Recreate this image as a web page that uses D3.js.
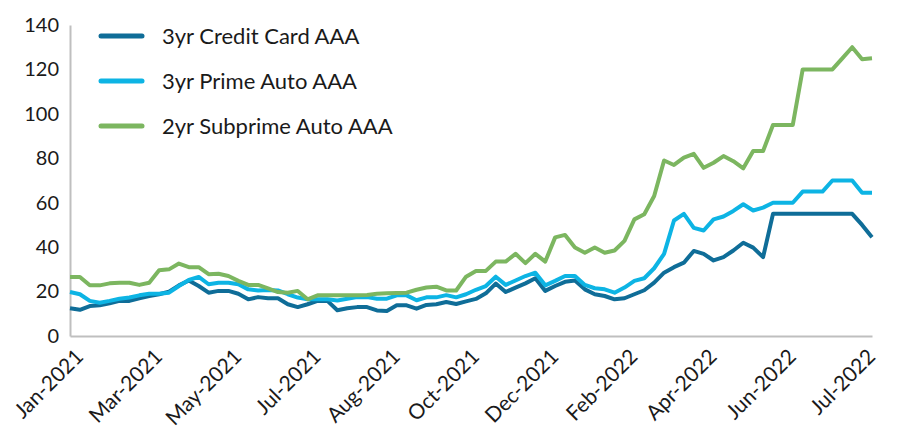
<!DOCTYPE html>
<html>
<head>
<meta charset="utf-8">
<script src="https://cdn.jsdelivr.net/npm/d3@7"></script>
<style>
  html, body { margin: 0; padding: 0; background: #ffffff; }
  svg { display: block; }
  text { font-family: Lato, "Open Sans", sans-serif; fill: #1a1a1a; }
</style>
</head>
<body>
<svg id="chart" width="900" height="441"></svg>
<script>
// ---- data (weekly observations, Jan-2021 .. Jul-2022) ----
const seriesNames = ["3yr Credit Card AAA", "3yr Prime Auto AAA", "2yr Subprime Auto AAA"];
const seriesColors = ["#0f6d98", "#0db4e4", "#7cb660"];

const creditCard = [
  12.5, 11.8, 13.5, 13.8, 14.7, 15.8, 15.8, 17, 18, 18.8,
  20, 22.8, 25, 22.5, 19.5, 20.3, 20.3, 19, 16.5, 17.5,
  17, 17, 14.3, 13, 14.3, 15.8, 15.8, 11.6, 12.5, 13,
  13, 11.5, 11.3, 13.8, 13.8, 12.3, 14, 14.3, 15.3, 14.4,
  15.6, 16.7, 19.2, 23.6, 19.8, 21.8, 23.7, 26, 20.3, 22.5,
  24.4, 25, 21, 18.8, 18, 16.5, 17, 18.8, 20.6, 24,
  28.5, 31, 33, 38.3, 37, 34, 35.5, 38.5, 42, 39.8,
  35.5, 55, 55, 55, 55, 55, 55, 55, 55, 55,
  50, 44.5
];
const primeAuto = [
  19.8, 18.8, 15.8, 15, 15.8, 16.8, 17.3, 18.3, 19, 19,
  19.5, 22.5, 25.2, 26.6, 23.3, 24, 24, 23.3, 21, 20.5,
  20.7, 20.5, 18.8, 17.3, 16.5, 16.5, 16.5, 16, 16.8, 17.5,
  17.5, 16.8, 16.8, 18.3, 18.3, 16.1, 17.4, 17.4, 18.4, 17.4,
  18.8, 20.8, 22.5, 26.7, 23, 25, 27, 28.5, 22.8, 24.8,
  27, 27, 23, 21.5, 21, 19.5, 21.8, 24.8, 26, 30.5,
  37, 52, 55, 48.7, 47.5, 52.5, 53.8, 56.3, 59.3, 56.5,
  57.8, 60, 60, 60, 65, 65, 65, 70, 70, 70,
  64.5, 64.5
];
const subprimeAuto = [
  26.6, 26.6, 22.8, 22.8, 23.7, 24, 24, 23, 24, 29.6,
  30, 32.6, 31, 31, 27.8, 28, 27, 24.8, 23, 23,
  21.4, 19.8, 19.5, 20.3, 16.5, 18.3, 18.3, 18.3, 18.3, 18.3,
  18.5, 19, 19.2, 19.4, 19.5, 20.8, 21.8, 22.2, 20.5, 20.5,
  26.7, 29.3, 29.3, 33.5, 33.5, 37, 32.8, 37, 33.5, 44.4,
  45.5, 39.8, 37.5, 39.8, 37.5, 38.5, 42.8, 52.5, 54.8, 63,
  79, 77, 80.3, 82, 75.7, 78, 81, 78.7, 75.5, 83.3,
  83.3, 95, 95, 95, 120, 120, 120, 120, 125, 130,
  124.6, 125
];
const weeks = creditCard.map((d, i) => i);   // category index per weekly observation
const tickLabels = ["Jan-2021", "Mar-2021", "May-2021", "Jul-2021", "Aug-2021", "Oct-2021",
                    "Dec-2021", "Feb-2022", "Apr-2022", "Jun-2022", "Jul-2022"];
const tickWeeks = [0, 8, 16, 24, 32, 40, 48, 56, 64, 72, 80];
const yTicks = [0, 20, 40, 60, 80, 100, 120, 140];

const allSeries = [creditCard, primeAuto, subprimeAuto];

// ---- layout ----
const svg = d3.select("#chart");
const plotLeft = 70, plotRight = 872, plotTop = 25, plotBottom = 336;

const x = d3.scalePoint().domain(weeks).range([plotLeft, plotRight]);
const y = d3.scaleLinear().domain([0, 140]).range([plotBottom, plotTop]);

// y axis
const yAxis = svg.append("g")
  .attr("transform", `translate(${plotLeft},0)`)
  .call(d3.axisLeft(y).tickValues(yTicks).tickSize(0).tickPadding(11));
yAxis.select(".domain").attr("stroke", "#bfbfbf").attr("stroke-width", 2);
yAxis.selectAll("text").style("font-size", "20px").style("font-family", "Lato, sans-serif").attr("fill", "#1a1a1a");

// x axis
const xAxis = svg.append("g")
  .attr("transform", `translate(0,${plotBottom})`)
  .call(d3.axisBottom(x).tickValues(tickWeeks).tickSize(0)
        .tickFormat((d) => tickLabels[tickWeeks.indexOf(d)]));
xAxis.select(".domain").attr("stroke", "#bfbfbf").attr("stroke-width", 2);
xAxis.selectAll("text")
  .style("font-size", "21px").style("font-family", "Lato, sans-serif")
  .attr("fill", "#1a1a1a")
  .attr("text-anchor", "end")
  .attr("dy", null)
  .attr("y", null)
  .attr("transform", "translate(14,22) rotate(-45)");

// lines
const line = d3.line().x((d, i) => x(weeks[i])).y((d) => y(d));
svg.append("g").selectAll("path")
  .data(allSeries)
  .join("path")
  .attr("d", (s) => line(s))
  .attr("fill", "none")
  .attr("stroke", (s, i) => seriesColors[i])
  .attr("stroke-width", 4)
  .attr("stroke-linejoin", "round")
  .attr("stroke-linecap", "butt");

// legend
const legend = svg.append("g");
seriesNames.forEach((name, i) => {
  const ly = 36 + i * 45;
  legend.append("line")
    .attr("x1", 101).attr("x2", 142).attr("y1", ly).attr("y2", ly)
    .attr("stroke", seriesColors[i]).attr("stroke-width", 5).attr("stroke-linecap", "round");
  legend.append("text")
    .attr("x", 162).attr("y", ly + 8)
    .style("font-size", "22px")
    .text(name);
});
</script>
</body>
</html>
